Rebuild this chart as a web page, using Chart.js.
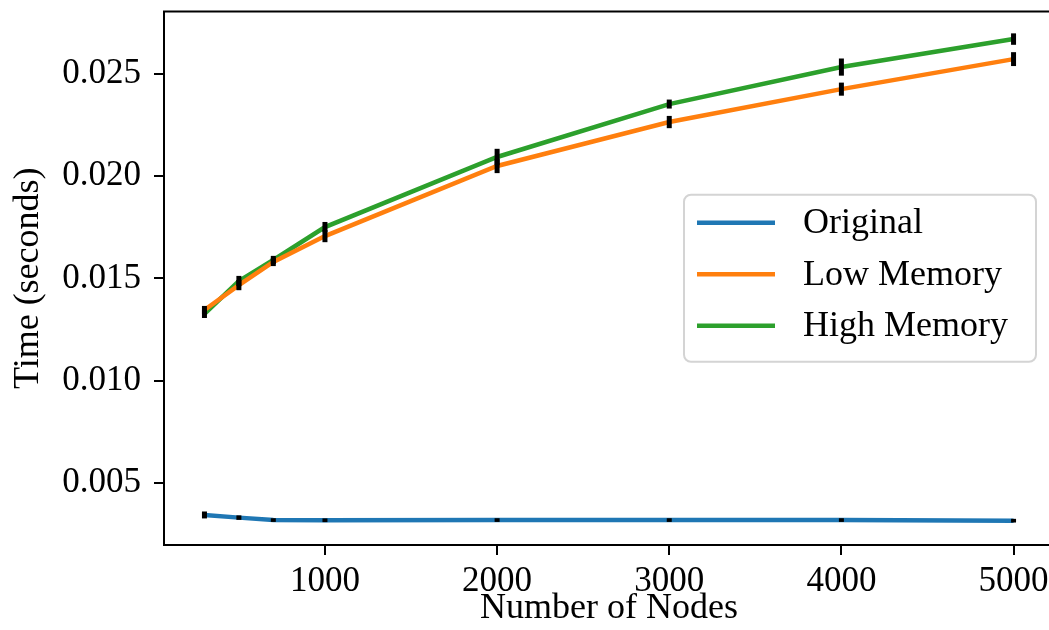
<!DOCTYPE html>
<html>
<head>
<meta charset="utf-8">
<script src="https://cdn.jsdelivr.net/npm/chart.js@4.4.1/dist/chart.umd.min.js"></script>
<style>
  html, body { margin: 0; padding: 0; overflow: hidden; background: #ffffff; }
  #wrap { width: 1049px; height: 630px; overflow: hidden; }
  canvas { display: block; }
</style>
</head>
<body>
<div id="wrap"><canvas id="c" width="1056" height="630"></canvas></div>
<script>
// ---- data ----
const nodes = [300, 500, 700, 1000, 2000, 3000, 4000, 5000];
const seriesNames = ["Original", "Low Memory", "High Memory"];
const originalTime = [0.00342, 0.00329, 0.00317, 0.00316, 0.00317, 0.00317, 0.00317, 0.00314];
const lowMemTime   = [0.01345, 0.01467, 0.01580, 0.01707, 0.02050, 0.02265, 0.02426, 0.02573];
const highMemTime  = [0.01326, 0.01487, 0.01590, 0.01751, 0.02094, 0.02353, 0.02534, 0.02671];
const originalErr  = [0.00017, 0.00011, 0.00009, 0.00009, 0.00009, 0.00009, 0.00009, 0.00009];
const lowMemErr    = [0.00020, 0.00025, 0.00020, 0.00030, 0.00035, 0.00030, 0.00032, 0.00034];
const highMemErr   = [0.00020, 0.00025, 0.00020, 0.00025, 0.00040, 0.00022, 0.00042, 0.00028];
const xTicks = [1000, 2000, 3000, 4000, 5000];
const yTicks = [0.005, 0.010, 0.015, 0.020, 0.025];
const colors = ["#1f77b4", "#ff7f0e", "#2ca02c"];

const FONT = "'Liberation Serif', 'DejaVu Serif', serif";
const values = [originalTime, lowMemTime, highMemTime];
const errors = [originalErr, lowMemErr, highMemErr];

const datasets = seriesNames.map((name, i) => ({
  label: name,
  data: nodes.map((x, j) => ({ x: x, y: values[i][j] })),
  errors: errors[i],
  borderColor: colors[i],
  backgroundColor: colors[i],
  borderWidth: 4.5,
  pointRadius: 0,
  tension: 0,
  fill: false
}));

const errorBarPlugin = {
  id: 'errorBars',
  afterDatasetsDraw(chart) {
    const ctx = chart.ctx;
    const xs = chart.scales.x, ys = chart.scales.y;
    ctx.save();
    ctx.strokeStyle = '#000000';
    ctx.lineWidth = 5;
    ctx.lineCap = 'butt';
    chart.data.datasets.forEach(ds => {
      ds.data.forEach((p, j) => {
        const e = ds.errors[j];
        const px = xs.getPixelForValue(p.x);
        ctx.beginPath();
        ctx.moveTo(px, ys.getPixelForValue(p.y - e));
        ctx.lineTo(px, ys.getPixelForValue(p.y + e));
        ctx.stroke();
      });
    });
    ctx.restore();
  }
};

const framePlugin = {
  id: 'frame',
  afterDraw(chart) {
    const { ctx, chartArea: a } = chart;
    ctx.save();
    ctx.strokeStyle = '#000000';
    ctx.lineWidth = 2;
    ctx.strokeRect(a.left, a.top, a.right - a.left, a.bottom - a.top);
    ctx.restore();
  }
};

const legendPlugin = {
  id: 'boxLegend',
  afterDraw(chart) {
    const { ctx, chartArea: a } = chart;
    const w = 352, h = 167;
    const right = a.right - 18;
    const left = right - w;
    const top = (a.top + a.bottom) / 2 - h / 2;
    ctx.save();
    ctx.beginPath();
    if (ctx.roundRect) ctx.roundRect(left, top, w, h, 7); else ctx.rect(left, top, w, h);
    ctx.fillStyle = 'rgba(255,255,255,0.8)';
    ctx.fill();
    ctx.strokeStyle = '#d4d4d4';
    ctx.lineWidth = 2;
    ctx.stroke();
    ctx.font = "36px " + FONT;
    ctx.textBaseline = 'middle';
    ctx.textAlign = 'left';
    chart.data.datasets.forEach((ds, i) => {
      const cy = top + 28 + i * 51.5;
      ctx.strokeStyle = ds.borderColor;
      ctx.lineWidth = 4.5;
      ctx.beginPath();
      ctx.moveTo(left + 13, cy);
      ctx.lineTo(left + 91, cy);
      ctx.stroke();
      ctx.fillStyle = '#000000';
      ctx.fillText(ds.label, left + 119, cy + 1);
    });
    ctx.restore();
  }
};

new Chart(document.getElementById('c'), {
  type: 'line',
  data: { datasets: datasets },
  plugins: [errorBarPlugin, framePlugin, legendPlugin],
  options: {
    responsive: false,
    animation: false,
    layout: { autoPadding: false, padding: { top: 11.5, right: 2, left: 0, bottom: 0 } },
    plugins: { legend: { display: false }, tooltip: { enabled: false }, title: { display: false } },
    scales: {
      x: {
        type: 'linear',
        min: 65,
        max: 5235,
        afterBuildTicks: s => { s.ticks = xTicks.map(v => ({ value: v })); },
        afterFit: s => { s.height = 85; s.paddingLeft = 0; s.paddingRight = 0; },
        grid: { drawOnChartArea: false, drawTicks: true, tickLength: 10, color: '#000000', lineWidth: 2 },
        border: { display: true, color: '#000000', width: 2 },
        ticks: {
          color: '#000000',
          font: { family: FONT, size: 35 },
          padding: 6,
          maxRotation: 0,
          autoSkip: false,
          callback: v => String(v)
        },
        title: {
          display: true,
          text: 'Number of Nodes',
          color: '#000000',
          font: { family: FONT, size: 36, lineHeight: 1.2 },
          padding: { top: 0, bottom: 0 }
        }
      },
      y: {
        type: 'linear',
        min: 0.00195,
        max: 0.02806,
        afterBuildTicks: s => { s.ticks = yTicks.map(v => ({ value: v })); },
        afterFit: s => { s.width = 164; s.paddingTop = 0; s.paddingBottom = 0; },
        grid: { drawOnChartArea: false, drawTicks: true, tickLength: 10, color: '#000000', lineWidth: 2 },
        border: { display: true, color: '#000000', width: 2 },
        ticks: {
          color: '#000000',
          font: { family: FONT, size: 35 },
          padding: 13,
          autoSkip: false,
          callback: v => Number(v).toFixed(3)
        },
        title: {
          display: true,
          text: 'Time (seconds)',
          color: '#000000',
          font: { family: FONT, size: 36, lineHeight: 1.2 },
          padding: { top: 7, bottom: 0 }
        }
      }
    }
  }
});
</script>
</body>
</html>
